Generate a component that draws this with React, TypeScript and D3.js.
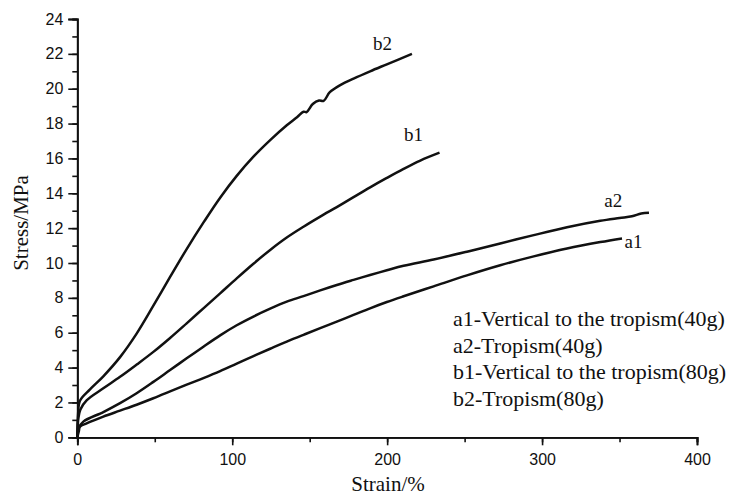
import React, { useRef, useEffect } from "react";
import * as d3 from "d3";

// strain (%), stress (MPa)
const a1: [number, number][] = [
  [0, 0], [1, 0.35], [1.7, 0.61], [6, 0.8], [16.8, 1.19], [27.6, 1.53], [38.3, 1.87],
  [49.1, 2.24], [59.9, 2.63], [70.6, 3.02], [81.4, 3.4], [92.2, 3.8], [102.9, 4.23],
  [113.7, 4.66], [124.5, 5.08], [135.2, 5.49], [146, 5.88], [156.8, 6.26], [167.5, 6.64],
  [178.3, 7.02], [189, 7.4], [199.8, 7.76], [210.6, 8.09], [230, 8.66], [251.5, 9.29],
  [273, 9.87], [294.6, 10.38], [316.1, 10.83], [337.6, 11.2], [351.6, 11.41],
];
const a2: [number, number][] = [
  [0, 0], [1, 0.55], [3.9, 0.9], [16.8, 1.45], [27.6, 1.96], [38.3, 2.53], [49.1, 3.18],
  [59.9, 3.86], [70.6, 4.53], [81.4, 5.2], [92.2, 5.85], [102.9, 6.43], [113.7, 6.93],
  [124.5, 7.38], [135.2, 7.78], [146, 8.1], [156.8, 8.43], [167.5, 8.74], [178.3, 9.03],
  [189, 9.31], [199.8, 9.58], [210.6, 9.84], [230, 10.2], [251.5, 10.65], [273, 11.12],
  [294.6, 11.6], [316.1, 12.05], [337.6, 12.42], [350, 12.58], [358, 12.68], [364, 12.84],
  [369, 12.88],
];
const b1: [number, number][] = [
  [0, 0], [0.7, 1.1], [2, 1.6], [6, 2.12], [16.8, 2.81], [27.6, 3.47], [38.3, 4.17],
  [49.1, 4.9], [59.9, 5.7], [70.6, 6.54], [81.4, 7.4], [92.2, 8.26], [102.9, 9.12],
  [113.7, 9.96], [124.5, 10.75], [135.2, 11.46], [146, 12.08], [156.8, 12.66], [167.5, 13.21],
  [178.3, 13.78], [189, 14.34], [199.8, 14.88], [210.6, 15.4], [221.4, 15.88], [233.8, 16.33],
];
const b2: [number, number][] = [
  [0, 0], [0.5, 1.3], [1.7, 2.1], [8.2, 2.75], [16.8, 3.5], [27.6, 4.6], [38.3, 5.95],
  [49.1, 7.55], [59.9, 9.2], [70.6, 10.8], [82, 12.4], [92.2, 13.75], [102.9, 15.0],
  [113.7, 16.1], [124.5, 17.05], [135.2, 17.9], [142, 18.38], [146, 18.68], [148, 18.66],
  [152, 19.12], [156, 19.32], [159, 19.3], [163, 19.8], [170, 20.22], [178.3, 20.58],
  [189, 21.0], [199.8, 21.4], [216, 22.0],
];

const curves = [a1, a2, b1, b2];
const curveNames = ["a1", "a2", "b1", "b2"];
// where each curve name sits (strain, stress)
const nameAt: [number, number][] = [[359, 10.85], [346, 13.2], [217, 17.0], [197, 22.2]];

const legendLines = [
  "a1-Vertical to the tropism(40g)",
  "a2-Tropism(40g)",
  "b1-Vertical to the tropism(80g)",
  "b2-Tropism(80g)",
];

const xTicks = [0, 100, 200, 300, 400];
const yTicks = [0, 2, 4, 6, 8, 10, 12, 14, 16, 18, 20, 22, 24];

const W = 732;
const H = 498;
const serif = "'Liberation Serif', 'Times New Roman', serif";
const sans = "'Liberation Sans', Arial, sans-serif";

const App = () => {
  const ref = useRef<SVGSVGElement>(null);

  useEffect(() => {
    if (!ref.current) return;
    const svg = d3.select(ref.current);
    svg.selectAll("*").remove();

    const x = d3.scaleLinear().domain([0, 400]).range([77.3, 697]);
    const y = d3.scaleLinear().domain([0, 24]).range([437.3, 19]);

    // minor ticks first, then the labelled ones
    const gx = svg.append("g").attr("transform", `translate(0,${y(0)})`);
    gx.call(
      d3.axisBottom(x).tickValues(d3.range(0, 401, 50)).tickSize(5).tickFormat(() => "")
    );
    gx.call((g) =>
      g.append("g").call(
        d3.axisBottom(x).tickValues(xTicks).tickSize(8).tickFormat(d3.format("d"))
      )
    );
    const gy = svg.append("g").attr("transform", `translate(${x(0)},0)`);
    gy.call(d3.axisLeft(y).tickValues(d3.range(0, 25, 1)).tickSize(5).tickFormat(() => ""));
    gy.call((g) =>
      g.append("g").call(d3.axisLeft(y).tickValues(yTicks).tickSize(9).tickFormat(d3.format("d")))
    );

    svg.selectAll(".domain").attr("stroke", "#111").attr("stroke-width", 1.8);
    svg.selectAll(".tick line").attr("stroke", "#111").attr("stroke-width", 1.6);
    svg.selectAll(".tick text")
      .attr("font-family", sans)
      .attr("font-size", 16)
      .attr("fill", "#111");
    gx.selectAll(".tick text").attr("dy", "1.05em");
    gy.selectAll(".tick text").attr("x", -14);

    const line = d3
      .line<[number, number]>()
      .x((d) => x(d[0]))
      .y((d) => y(d[1]))
      .curve(d3.curveCatmullRom.alpha(0.5));

    svg
      .append("g")
      .selectAll("path")
      .data(curves)
      .enter()
      .append("path")
      .attr("d", (d) => line(d))
      .attr("fill", "none")
      .attr("stroke", "#111")
      .attr("stroke-width", 2.5)
      .attr("stroke-linejoin", "round");

    svg
      .append("g")
      .selectAll("text")
      .data(curveNames)
      .enter()
      .append("text")
      .attr("x", (d, i) => x(nameAt[i][0]))
      .attr("y", (d, i) => y(nameAt[i][1]))
      .attr("text-anchor", "middle")
      .attr("font-family", serif)
      .attr("font-size", 19)
      .attr("fill", "#111")
      .text((d) => d);

    svg
      .append("g")
      .selectAll("text")
      .data(legendLines)
      .enter()
      .append("text")
      .attr("x", 453)
      .attr("y", (d, i) => 326 + i * 26.7)
      .attr("font-family", serif)
      .attr("font-size", 22)
      .attr("fill", "#111")
      .text((d) => d);

    svg
      .append("text")
      .attr("x", 388)
      .attr("y", 491)
      .attr("text-anchor", "middle")
      .attr("font-family", serif)
      .attr("font-size", 21)
      .attr("fill", "#111")
      .text("Strain/%");

    svg
      .append("text")
      .attr("transform", "translate(28,223) rotate(-90)")
      .attr("text-anchor", "middle")
      .attr("font-family", serif)
      .attr("font-size", 21)
      .attr("fill", "#111")
      .text("Stress/MPa");
  }, []);

  return (
    <svg
      ref={ref}
      width={W}
      height={H}
      style={{ position: "absolute", left: 0, top: 0, background: "#fff" }}
    />
  );
};

export default App;
